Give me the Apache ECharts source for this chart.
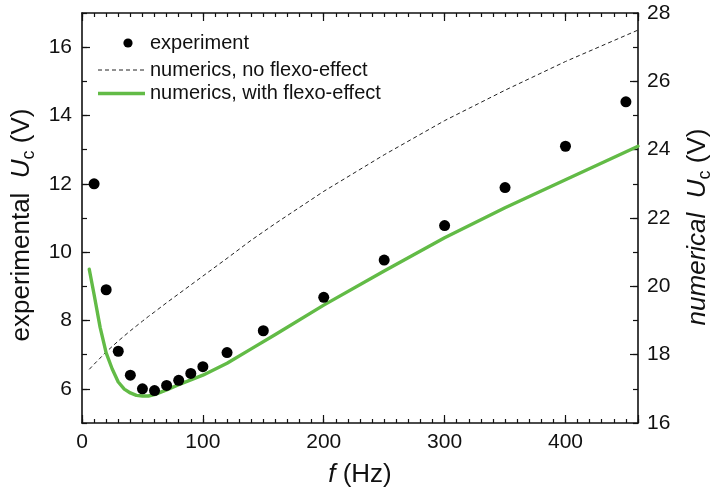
<!DOCTYPE html>
<html>
<head>
<meta charset="utf-8">
<script src="https://cdn.jsdelivr.net/npm/echarts@6/dist/echarts.min.js"></script>
<style>
  html, body { margin: 0; padding: 0; background: #fff; }
  #chart { width: 710px; height: 497px; }
</style>
</head>
<body>
<div id="chart"></div>
<script>
// Measured threshold voltage vs. frequency
const expFreq = [10, 20, 30, 40, 50, 60, 70, 80, 90, 100, 120, 150, 200, 250, 300, 350, 400, 450];
const expUc   = [12.0, 8.9, 7.1, 6.4, 6.0, 5.95, 6.1, 6.25, 6.45, 6.65, 7.06, 7.7, 8.68, 9.77, 10.78, 11.89, 13.1, 14.4];

// Simulated threshold voltage (right axis)
const numFreq    = [6, 10, 15, 20, 25, 30, 35, 40, 45, 50, 55, 60, 70, 80, 90, 100, 120, 140, 160, 200, 250, 300, 350, 400, 460];
const numNoFlexo = [17.57, 17.72, 17.9, 18.08, 18.24, 18.4, 18.55, 18.7, 18.84, 18.98, 19.12, 19.25, 19.52, 19.78, 20.04, 20.3, 20.82, 21.35, 21.84, 22.78, 23.85, 24.85, 25.74, 26.58, 27.5];
const numFlexo   = [20.5, 19.76, 18.8, 18.05, 17.58, 17.2, 16.99, 16.88, 16.81, 16.79, 16.79, 16.83, 16.97, 17.12, 17.26, 17.4, 17.75, 18.17, 18.59, 19.45, 20.45, 21.42, 22.3, 23.12, 24.1];

// Axis ranges and labelled ticks
const xRange = [0, 460];
const xLabelStep = 100;
const leftRange = [5, 17];
const rightRange = [16, 28];

const legendLabels = ['experiment', 'numerics, no flexo-effect', 'numerics, with flexo-effect'];

const FONT = '"Liberation Sans", Arial, Helvetica, sans-serif';
const GREEN = '#62bb46';
const AXIS = '#111';

const pair = (xs, ys) => xs.map((x, i) => [x, ys[i]]);

// plot box
const G = { left: 82, right: 72, top: 13, bottom: 74 };
const H = 497 - G.top - G.bottom;
const pxPerLeft = H / (leftRange[1] - leftRange[0]);

const evenLabel = v => (Math.round(v) % 2 === 0 ? String(v) : '');

const chart = echarts.init(document.getElementById('chart'), null, { renderer: 'canvas' });

const lineStyleAxis = { color: AXIS, width: 1.6 };

chart.setOption({
  animation: false,
  backgroundColor: '#fff',
  grid: [
    { left: G.left, right: G.right, top: G.top, bottom: G.bottom },
    // longer ticks for the labelled left values 6..16
    { left: G.left, right: G.right, top: G.top + pxPerLeft * (leftRange[1] - 16), bottom: G.bottom + pxPerLeft * (6 - leftRange[0]) },
    // longer ticks for the labelled right values 18..26
    { left: G.left, right: G.right, top: G.top + pxPerLeft * (rightRange[1] - 26), bottom: G.bottom + pxPerLeft * (18 - rightRange[0]) }
  ],
  xAxis: [
    {
      gridIndex: 0, type: 'value', position: 'bottom', min: xRange[0], max: xRange[1], interval: 10,
      axisLine: { show: true, onZero: false, lineStyle: lineStyleAxis },
      axisTick: { show: true, inside: true, length: 4, lineStyle: { color: AXIS, width: 1.2 } },
      axisLabel: { show: true, margin: 9, fontSize: 21, color: '#111', fontFamily: FONT,
                   formatter: v => (v % xLabelStep === 0 ? String(v) : '') },
      splitLine: { show: false }
    },
    {
      gridIndex: 0, type: 'value', position: 'bottom', min: xRange[0], max: xRange[1], interval: xLabelStep,
      axisLine: { show: false, onZero: false },
      axisTick: { show: true, inside: true, length: 8, lineStyle: { color: AXIS, width: 1.2 } },
      axisLabel: { show: false }, splitLine: { show: false }
    },
    {
      gridIndex: 0, type: 'value', position: 'top', min: xRange[0], max: xRange[1], interval: 10,
      axisLine: { show: true, onZero: false, lineStyle: lineStyleAxis },
      axisTick: { show: true, inside: true, length: 4, lineStyle: { color: AXIS, width: 1.2 } },
      axisLabel: { show: false }, splitLine: { show: false }
    },
    {
      gridIndex: 0, type: 'value', position: 'top', min: xRange[0], max: xRange[1], interval: xLabelStep,
      axisLine: { show: false, onZero: false },
      axisTick: { show: true, inside: true, length: 8, lineStyle: { color: AXIS, width: 1.2 } },
      axisLabel: { show: false }, splitLine: { show: false }
    },
    { gridIndex: 1, type: 'value', show: false, min: 0, max: 1 },
    { gridIndex: 2, type: 'value', show: false, min: 0, max: 1 }
  ],
  yAxis: [
    {
      gridIndex: 0, type: 'value', position: 'left', min: leftRange[0], max: leftRange[1], interval: 1,
      axisLine: { show: true, onZero: false, lineStyle: lineStyleAxis },
      axisTick: { show: true, inside: true, length: 5, lineStyle: { color: AXIS, width: 1.2 } },
      axisLabel: { show: true, margin: 10, fontSize: 21, color: '#111', fontFamily: FONT, formatter: evenLabel },
      splitLine: { show: false }
    },
    {
      gridIndex: 0, type: 'value', position: 'right', min: rightRange[0], max: rightRange[1], interval: 1,
      axisLine: { show: true, onZero: false, lineStyle: lineStyleAxis },
      axisTick: { show: true, inside: true, length: 5, lineStyle: { color: AXIS, width: 1.2 } },
      axisLabel: { show: true, margin: 9, fontSize: 21, color: '#111', fontFamily: FONT, formatter: evenLabel,
                   showMinLabel: true, showMaxLabel: true },
      splitLine: { show: false }
    },
    {
      gridIndex: 1, type: 'value', position: 'left', min: 6, max: 16, interval: 2,
      axisLine: { show: false, onZero: false },
      axisTick: { show: true, inside: true, length: 8, lineStyle: { color: AXIS, width: 1.2 } },
      axisLabel: { show: false }, splitLine: { show: false }
    },
    {
      gridIndex: 2, type: 'value', position: 'right', min: 18, max: 26, interval: 2,
      axisLine: { show: false, onZero: false },
      axisTick: { show: true, inside: true, length: 8, lineStyle: { color: AXIS, width: 1.2 } },
      axisLabel: { show: false }, splitLine: { show: false }
    }
  ],
  series: [
    {
      name: legendLabels[1], type: 'line', xAxisIndex: 0, yAxisIndex: 1,
      data: pair(numFreq, numNoFlexo), showSymbol: false, smooth: false,
      lineStyle: { color: '#222', width: 1, type: [4, 3] }, z: 2
    },
    {
      name: legendLabels[2], type: 'line', xAxisIndex: 0, yAxisIndex: 1,
      data: pair(numFreq, numFlexo), showSymbol: false, smooth: false,
      lineStyle: { color: GREEN, width: 3.4, join: 'round', cap: 'round' }, z: 3
    },
    {
      name: legendLabels[0], type: 'scatter', xAxisIndex: 0, yAxisIndex: 0,
      data: pair(expFreq, expUc), symbol: 'circle', symbolSize: 11,
      itemStyle: { color: '#000', opacity: 1 }, z: 4
    }
  ],
  graphic: [
    // legend
    { type: 'circle', shape: { cx: 128, cy: 43, r: 4.6 }, style: { fill: '#000' } },
    { type: 'text', x: 150, y: 43, style: { text: legendLabels[0], font: '20px ' + FONT, fill: '#111', verticalAlign: 'middle' } },
    { type: 'line', shape: { x1: 98, y1: 70, x2: 145, y2: 70 }, style: { stroke: '#222', lineWidth: 1, lineDash: [4, 3] } },
    { type: 'text', x: 150, y: 70, style: { text: legendLabels[1], font: '20px ' + FONT, fill: '#111', verticalAlign: 'middle' } },
    { type: 'line', shape: { x1: 98, y1: 93.5, x2: 145, y2: 93.5 }, style: { stroke: GREEN, lineWidth: 3.4 } },
    { type: 'text', x: 150, y: 93.5, style: { text: legendLabels[2], font: '20px ' + FONT, fill: '#111', verticalAlign: 'middle' } },
    // axis titles
    {
      type: 'text', x: 360, y: 475,
      style: {
        text: '{i|f} (Hz)', font: '26px ' + FONT, fill: '#111', align: 'center', verticalAlign: 'middle',
        rich: { i: { fontStyle: 'italic', fontSize: 26, fontFamily: FONT, fill: '#111' } }
      }
    },
    {
      type: 'text', x: 22, y: 225, rotation: Math.PI / 2,
      style: {
        text: '{n|experimental  }{i|U}{s|c}{n| (V)}', fill: '#111', align: 'center', verticalAlign: 'middle',
        rich: {
          n: { fontSize: 26, fontFamily: FONT, lineHeight: 32, verticalAlign: 'middle', fill: '#111' },
          i: { fontSize: 26, fontFamily: FONT, fontStyle: 'italic', lineHeight: 32, verticalAlign: 'middle', fill: '#111' },
          s: { fontSize: 18, fontFamily: FONT, lineHeight: 20, verticalAlign: 'bottom', fill: '#111' }
        }
      }
    },
    {
      type: 'text', x: 698, y: 227, rotation: Math.PI / 2,
      style: {
        text: '{i|numerical  U}{s|c}{n| (V)}', fill: '#111', align: 'center', verticalAlign: 'middle',
        rich: {
          n: { fontSize: 26, fontFamily: FONT, lineHeight: 32, verticalAlign: 'middle', fill: '#111' },
          i: { fontSize: 26, fontFamily: FONT, fontStyle: 'italic', lineHeight: 32, verticalAlign: 'middle', fill: '#111' },
          s: { fontSize: 18, fontFamily: FONT, lineHeight: 20, verticalAlign: 'bottom', fill: '#111' }
        }
      }
    }
  ]
});
</script>
</body>
</html>
